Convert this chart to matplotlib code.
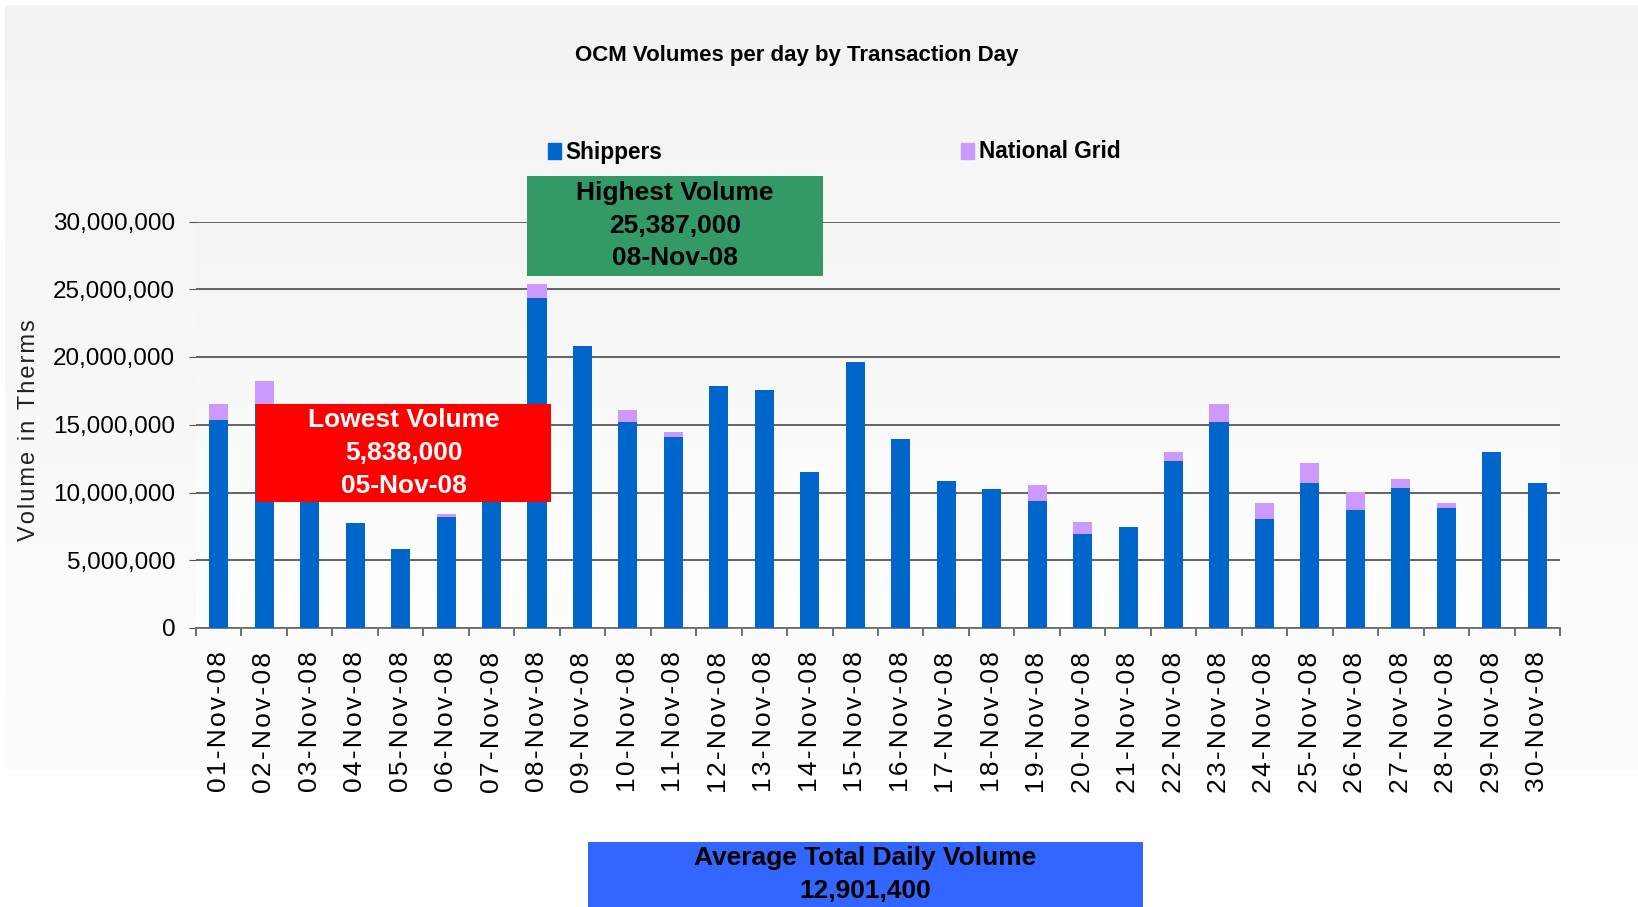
import matplotlib
matplotlib.use("Agg")
import matplotlib.pyplot as plt
import numpy as np
from matplotlib import font_manager
from matplotlib.patches import Rectangle, Patch
from matplotlib.ticker import FuncFormatter, FixedLocator

# data (therms)
days = [f"{d:02d}-Nov-08" for d in range(1, 31)]
shippers = [15350000, 16500000, 10400000, 7750000, 5838000, 8190000, 10700000,
            24360000, 20820000, 15210000, 14100000, 17860000, 17570000, 11520000,
            19640000, 13950000, 10850000, 10260000, 9370000, 6940000, 7460000,
            12330000, 15210000, 8050000, 10700000, 8710000, 10330000, 8860000,
            12990000, 10700000]
national_grid = [1190000, 1730000, 0, 0, 0, 230000, 0,
                 1027000, 0, 880000, 370000, 0, 0, 0,
                 0, 0, 0, 0, 1190000, 880000, 0,
                 660000, 1330000, 1180000, 1480000, 1330000, 670000, 370000,
                 0, 0]
y_ticks = [0, 5000000, 10000000, 15000000, 20000000, 25000000, 30000000]

SHIP_COL = "#0066CC"
NG_COL = "#CC99FF"

SANS = ["Liberation Sans", "DejaVu Sans"]

W, H = 1638, 907
fig = plt.figure(figsize=(W / 100, H / 100), dpi=100, facecolor="white")


def fx(x):
    return x / W


def fy(y):
    return 1 - y / H


def spaced(s, sp="\u200a"):
    # letter spacing like the original
    return sp.join(s)


# chart area background
bg = fig.add_axes([fx(5), fy(770), 1 - fx(5), fy(5) - fy(770)], zorder=-2)
grad = np.linspace(0, 1, 256).reshape(-1, 1)
bg.imshow(grad, aspect="auto", cmap=matplotlib.colors.LinearSegmentedColormap.from_list(
    "bg", ["#f3f3f3", "#fdfdfd"]), extent=[0, 1, 0, 1], origin="upper")
bg.axis("off")

# plot area
left, right, top, bottom = 196, 1560, 221.5, 628
pbg = fig.add_axes([fx(left), fy(bottom), fx(right) - fx(left), fy(top) - fy(bottom)], zorder=-1)
pbg.imshow(grad, aspect="auto", cmap=matplotlib.colors.LinearSegmentedColormap.from_list(
    "pa", ["#f4f4f4", "#ffffff"]), extent=[0, 1, 0, 1], origin="upper")
pbg.axis("off")

ax = fig.add_axes([fx(left), fy(bottom), fx(right) - fx(left), fy(top) - fy(bottom)])
ax.patch.set_alpha(0)
x = np.arange(len(days))
ax.bar(x, shippers, width=0.42, color=SHIP_COL, zorder=3)
ax.bar(x, national_grid, width=0.42, bottom=shippers, color=NG_COL, zorder=3)

ax.set_xlim(-0.5, len(days) - 0.5)
ax.set_ylim(0, 30000000)
ax.set_yticks(y_ticks)
ax.yaxis.set_major_formatter(FuncFormatter(lambda v, p: f"{int(v):,}"))
ax.grid(axis="y", color="#4a4a4a", linewidth=1.2, zorder=1)
ax.set_axisbelow(True)
for s in ["left", "right", "top"]:
    ax.spines[s].set_visible(False)
ax.spines["bottom"].set_color("#6e6e6e")
ax.spines["bottom"].set_linewidth(1.3)

ax.xaxis.set_major_locator(FixedLocator(np.arange(len(days) + 1) - 0.5))
ax.xaxis.set_minor_locator(FixedLocator(x))
ax.set_xticklabels([], minor=False)
ax.set_xticklabels([spaced(d) for d in days], minor=True, rotation=90, fontsize=19,
                   family=SANS)
ax.tick_params(axis="x", which="major", length=6, width=1.2, color="#555555")
ax.tick_params(axis="x", which="minor", length=0, pad=17)
ax.tick_params(axis="y", length=5, color="#555555", pad=10)
for lab in ax.get_yticklabels():
    lab.set_fontsize(17.5)
    lab.set_family(SANS)

fig.text(fx(29), fy(430), spaced("Volume in Therms"), rotation=90, ha="center", va="center",
         fontsize=17, family=SANS, color="#222222")

# title
fig.text(fx(797), fy(55), "OCM Volumes per day by Transaction Day", ha="center", va="center",
         fontsize=16, fontweight="bold", family=SANS)

# legend
handles = [Patch(color=SHIP_COL, label="Shippers"), Patch(color=NG_COL, label="National Grid")]
fig.legend(handles=handles, loc="center left", bbox_to_anchor=(fx(548), fy(152)), ncol=2,
           frameon=False, borderpad=0, borderaxespad=0, handlelength=0.575, handleheight=0.71,
           handletextpad=0.2, columnspacing=13.2,
           prop={"family": SANS, "weight": "bold", "size": 16.3})


def box(x0, x1, y0, y1, color, lines, ys, tcolor):
    fig.patches.append(Rectangle((fx(x0), fy(y1)), fx(x1) - fx(x0), fy(y0) - fy(y1),
                                 transform=fig.transFigure, facecolor=color,
                                 edgecolor="none", zorder=5))
    for t, yy in zip(lines, ys):
        fig.text(fx((x0 + x1) / 2), fy(yy), t, ha="center", va="center", color=tcolor,
                 fontsize=19, fontweight="bold", family=SANS, zorder=6)


box(527, 823, 176.5, 276, "#339966", ["Highest Volume", "25,387,000", "08-Nov-08"],
    [193, 226, 258], "black")
box(256, 551, 404, 502, "#FF0000", ["Lowest Volume", "5,838,000", "05-Nov-08"],
    [420, 453, 486], "white")
box(588, 1143, 842, 920, "#3366FF", ["Average Total Daily Volume", "12,901,400"],
    [858, 891], "black")

fig.savefig("out.png", dpi=100, facecolor="white")
